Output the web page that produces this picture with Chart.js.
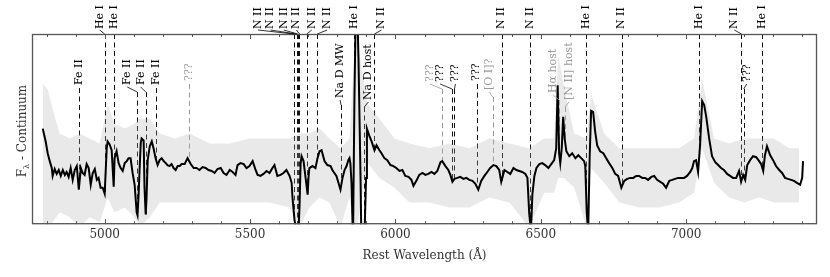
<!DOCTYPE html>
<html><head><meta charset="utf-8">
<script src="https://cdn.jsdelivr.net/npm/chart.js@4/dist/chart.umd.min.js"></script>
<style>html,body{margin:0;padding:0;background:#fff}#wrap{width:830px;height:277px}</style>
</head><body><div id="wrap"><canvas id="c" width="830" height="277"></canvas></div>
<script>
// ---------- DATA ----------
// Smoothed spectrum: rest wavelength (Å) and F_lambda - continuum (arbitrary units)
const wavelength = [
4787,4790,4797,4804,4811,4818,4821,4828,4835,4842,4849,4856,4863,4869,4876,4883,4890,4897,4904,4911,
4918,4924,4931,4938,4945,4952,4959,4966,4973,4979,4986,4993,5000,5007,5010,5017,5024,5031,5034,5041,
5048,5055,5062,5069,5076,5082,5089,5096,5103,5110,5113,5117,5120,5124,5127,5134,5137,5141,5144,5148,
5155,5162,5168,5175,5182,5189,5196,5203,5210,5216,5223,5230,5237,5244,5251,5258,5265,5275,5285,5296,
5306,5316,5326,5337,5347,5357,5368,5378,5388,5399,5409,5419,5430,5440,5450,5457,5467,5478,5488,5498,
5509,5519,5526,5536,5546,5557,5567,5577,5584,5594,5605,5615,5625,5636,5643,5646,5653,5660,5667,5670,
5674,5677,5684,5691,5698,5701,5704,5715,5725,5732,5739,5746,5756,5766,5777,5783,5790,5797,5804,5811,
5818,5825,5832,5838,5842,5845,5849,5854,5859,5863,5869,5873,5880,5883,5893,5899,5902,5911,5918,5928,
5935,5945,5952,5962,5972,5983,5993,6003,6014,6024,6034,6045,6055,6062,6072,6082,6093,6103,6113,6124,
6134,6144,6155,6161,6172,6182,6189,6196,6203,6213,6223,6234,6244,6254,6265,6275,6285,6295,6306,6316,
6326,6337,6347,6357,6364,6375,6385,6395,6406,6416,6426,6436,6447,6454,6460,6466,6471,6478,6485,6495,
6505,6515,6526,6536,6546,6553,6558,6563,6567,6572,6577,6582,6588,6598,6608,6619,6629,6639,6649,6653,
6658,6663,6668,6673,6680,6687,6694,6704,6715,6725,6735,6746,6756,6766,6777,6787,6797,6808,6818,6828,
6838,6849,6859,6869,6880,6890,6900,6911,6921,6931,6942,6952,6962,6972,6983,6993,7003,7014,7021,7027,
7034,7041,7048,7055,7062,7069,7079,7089,7100,7110,7120,7130,7141,7151,7161,7172,7182,7189,7196,7203,
7210,7220,7230,7241,7251,7258,7265,7271,7278,7289,7299,7309,7320,7330,7340,7350,7361,7371,7381,7392,
7399,7402];
const flux = [
50,46,37,25,17,10,2,9,4,8,2,8,3,6,1,10,-2,8,12,-12,
10,5,3,14,10,-7,5,9,-2,0,-10,-10,-16,30,37,34,28,-9,20,27,
15,10,7,15,17,20,20,5,-7,-35,-38,-15,8,35,40,38,-10,-37,-20,18,
32,37,30,20,13,18,20,17,15,13,12,14,10,8,12,12,14,14,20,14,
10,10,8,11,10,8,7,5,9,10,5,3,8,6,3,13,15,14,10,12,
17,8,3,2,4,7,5,10,13,2,3,5,8,2,-5,-20,-43,-55,-52,-30,
15,22,17,0,-17,0,10,12,10,20,27,28,17,13,12,8,5,2,-5,-12,
0,8,12,18,20,15,-5,-65,80,160,170,120,0,-65,-65,0,50,42,37,28,
33,28,25,20,18,13,12,10,7,8,2,1,-2,-8,-3,3,5,3,4,6,
4,7,16,17,12,8,3,-4,-1,0,1,-1,0,-2,-3,-6,-12,-3,2,6,
10,13,12,8,-4,8,6,4,10,8,7,6,4,0,-35,-55,-17,2,10,14,
15,13,10,14,18,30,94,25,15,30,62,40,27,22,25,20,23,20,17,12,
-35,-55,20,68,67,47,33,27,25,20,15,10,4,2,-10,-3,-1,0,0,2,
2,0,0,-2,1,2,-2,-4,-6,-10,-3,-2,-1,0,0,0,2,6,10,17,
18,6,34,78,74,62,40,22,16,13,10,8,4,2,0,0,7,-4,3,-2,
13,18,22,21,17,14,7,23,32,23,18,12,8,5,0,-1,-2,-3,-5,-7,
0,17];

// Envelope of the unsmoothed (noisy) spectrum
const noiseWave = [4787,4804,4821,4845,4880,4914,4948,4983,5010,5034,5069,5103,5120,5155,5189,5241,5292,5361,5430,5498,
5567,5636,5670,5704,5739,5773,5811,5842,5863,5904,5945,5997,6048,6117,6186,6254,6323,6392,6460,6512,
6546,6560,6580,6615,6657,6673,6718,6770,6838,6907,6976,7027,7055,7096,7148,7199,7251,7302,7354,7388];
const noiseHigh = [95,90,70,45,40,45,40,35,75,55,50,55,60,60,45,40,45,35,35,40,
40,40,45,45,50,40,30,40,150,75,60,40,35,30,35,30,40,35,30,40,
40,125,92,45,40,85,45,30,30,30,30,40,100,40,35,40,40,40,30,30];
const noiseLow = [-55,-50,-45,-35,-40,-50,-40,-45,-20,-35,-30,-40,-50,-40,-25,-25,-25,-25,-25,-25,
-25,-30,-50,-30,-20,-25,-50,-20,-60,15,0,-10,-25,-25,-30,-30,-20,-25,-50,-15,
-15,0,0,-10,-50,10,-5,-25,-30,-30,-25,-15,30,-5,-20,-25,-20,-25,-25,-25];

// Line identifications
const lineWave = [5000,5032,5651,5660,5664,5670,5695,5731,5859,5928,6365,6463,6657,6778,7045,7190,7260,
                  4911,5112,5141,5178,5289,5813,5893,6160,6195,6203,6279,6334,6563,6583,7198];
const lineName = ['He I','He I','N II','N II','N II','N II','N II','N II','He I','N II','N II','N II','He I','N II','He I','N II','He I',
                  'Fe II','Fe II','Fe II','Fe II','???','Na D MW','Na D host','???','???','???','???','[O I]?','H\u03b1 host','[N II] host','???'];
const linePlace = ['top','top','top','top','top','top','top','top','top','top','top','top','top','top','top','top','top',
                   'in','in','in','in','in','in','in','in','in','in','in','in','in','in','in'];
const lineTone = ['k','k','k','k','k','k','k','k','k','k','k','k','k','k','k','k','k',
                  'k','k','k','k','gray','k','k','gray','k','k','k','gray','gray','gray','k'];

// Axis
const xTickValues = [5000,5500,6000,6500,7000];
const xMinorStep = 100;
const xRange = [4750,7450];
const yRange = [-47,146];

// ---------- LAYOUT (pixels, not data) ----------
const labelShiftPx = [-5,0,-36,-26,-14,-3,5,10,0,7,0,0,0,0,0,-7,0,
                      0,-10,-5,0,0,-1,4,-12,-12,1,0,-3,-6,4,3];
const labelBottomPx = [0,0,0,0,0,0,0,0,0,0,0,0,0,0,0,0,0,
                       85,85,85,85,81,98,100,82,82,82,81,90,93,100,82];

const SERIF = '"DejaVu Serif", serif';
const GRAY = '#9a9a9a';

function fluxAt(w){
  for (let i=1;i<wavelength.length;i++){
    if (wavelength[i]>=w){
      const t=(w-wavelength[i-1])/(wavelength[i]-wavelength[i-1]);
      return flux[i-1]+t*(flux[i]-flux[i-1]);
    }
  }
  return flux[flux.length-1];
}

const decor = {
  id:'decor',
  beforeDatasetsDraw(chart){
    const ctx=chart.ctx, a=chart.chartArea, xs=chart.scales.x, ys=chart.scales.y;
    ctx.save();
    ctx.beginPath(); ctx.rect(a.left,a.top,a.right-a.left,a.bottom-a.top); ctx.clip();
    ctx.setLineDash([5,3.5]); ctx.lineWidth=1;
    lineWave.forEach((w,i)=>{
      const x=Math.round(xs.getPixelForValue(w))+0.5;
      const y0 = linePlace[i]==='top' ? a.top : labelBottomPx[i] + (labelShiftPx[i] ? 7 : 3);
      const y1 = Math.min(a.bottom, ys.getPixelForValue(fluxAt(w)));
      if (y1<=y0) return;
      ctx.strokeStyle = lineTone[i]==='gray' ? GRAY : '#111';
      ctx.beginPath(); ctx.moveTo(x,y0); ctx.lineTo(x,y1); ctx.stroke();
    });
    ctx.restore();
  },
  afterDraw(chart){
    const ctx=chart.ctx, a=chart.chartArea, xs=chart.scales.x;
    ctx.save();
    ctx.strokeStyle='#555'; ctx.lineWidth=1;
    for (let v=Math.ceil(xRange[0]/xMinorStep)*xMinorStep; v<=xRange[1]; v+=xMinorStep){
      const x=Math.round(xs.getPixelForValue(v))+0.5;
      const len = (v%500===0)?5:3;
      ctx.beginPath(); ctx.moveTo(x,a.bottom); ctx.lineTo(x,a.bottom-len); ctx.stroke();
      ctx.beginPath(); ctx.moveTo(x,a.top); ctx.lineTo(x,a.top+len); ctx.stroke();
    }
    ctx.strokeStyle='#555'; ctx.lineWidth=1.3;
    ctx.strokeRect(a.left+0.5,a.top+0.5,a.right-a.left-1,a.bottom-a.top-1);
    ctx.font='11px '+SERIF;
    lineWave.forEach((w,i)=>{
      const x=xs.getPixelForValue(w), lx=x+labelShiftPx[i];
      const col = lineTone[i]==='gray' ? GRAY : '#000';
      const yb = linePlace[i]==='top' ? a.top-5 : labelBottomPx[i];
      ctx.save(); ctx.translate(lx,yb); ctx.rotate(-Math.PI/2);
      ctx.textAlign='left'; ctx.textBaseline='middle'; ctx.fillStyle=col;
      ctx.fillText(lineName[i],0,0); ctx.restore();
      if (labelShiftPx[i]){
        ctx.strokeStyle=col; ctx.lineWidth=0.8; ctx.setLineDash([]);
        ctx.beginPath();
        if (linePlace[i]==='top'){ ctx.moveTo(lx,a.top-4); ctx.lineTo(x,a.top); }
        else { ctx.moveTo(lx,yb+2); ctx.lineTo(x,yb+7); }
        ctx.stroke();
      }
    });
    ctx.save(); ctx.translate(22,131); ctx.rotate(-Math.PI/2);
    ctx.fillStyle='#333'; ctx.textBaseline='alphabetic'; ctx.textAlign='left';
    const f1='12px '+SERIF, f2='8px '+SERIF;
    ctx.font=f1; const wF=ctx.measureText('F').width, wR=ctx.measureText(' - Continuum').width;
    ctx.font=f2; const wL=ctx.measureText('\u03bb').width;
    let sx=-(wF+wL+wR)/2; const base=4;
    ctx.font=f1; ctx.fillText('F',sx,base); sx+=wF;
    ctx.font=f2; ctx.fillText('\u03bb',sx,base+3); sx+=wL;
    ctx.font=f1; ctx.fillText(' - Continuum',sx,base);
    ctx.restore();
    if (wavelength.length!==flux.length){ctx.fillStyle='red';ctx.fillText('LEN '+wavelength.length+' '+flux.length,300,150);}
    ctx.restore();
  }
};

new Chart(document.getElementById('c'),{
  type:'line',
  data:{datasets:[
    {label:'smoothed', data:wavelength.map((w,i)=>({x:w,y:flux[i]})), borderColor:'#000', borderWidth:2,
     pointRadius:0, tension:0, fill:false, order:0, clip:0},
    {label:'noise high', data:noiseWave.map((w,i)=>({x:w,y:noiseHigh[i]})), borderWidth:0, borderColor:'rgba(0,0,0,0)',
     backgroundColor:'rgba(175,175,175,0.27)', pointRadius:0, tension:0, fill:'+1', order:1, clip:0},
    {label:'noise low', data:noiseWave.map((w,i)=>({x:w,y:noiseLow[i]})), borderWidth:0, borderColor:'rgba(0,0,0,0)',
     pointRadius:0, tension:0, fill:false, order:2, clip:0}
  ]},
  options:{
    responsive:false, animation:false, devicePixelRatio:1,
    layout:{padding:{left:32,right:13,top:34,bottom:10}},
    plugins:{legend:{display:false}, tooltip:{enabled:false}},
    scales:{
      x:{type:'linear', min:xRange[0], max:xRange[1],
         afterBuildTicks:s=>{s.ticks=xTickValues.map(v=>({value:v}));},
         ticks:{autoSkip:false, maxRotation:0, padding:3, color:'#333', font:{family:'DejaVu Serif', size:12},
                callback:v=>String(v)},
         grid:{display:false, drawTicks:false}, border:{display:false},
         title:{display:true, text:'Rest Wavelength (\u00c5)', color:'#333', font:{family:'DejaVu Serif', size:12}, padding:{top:4,bottom:4}}},
      y:{type:'linear', display:false, min:yRange[0], max:yRange[1]}
    }
  },
  plugins:[decor]
});
</script></body></html>
